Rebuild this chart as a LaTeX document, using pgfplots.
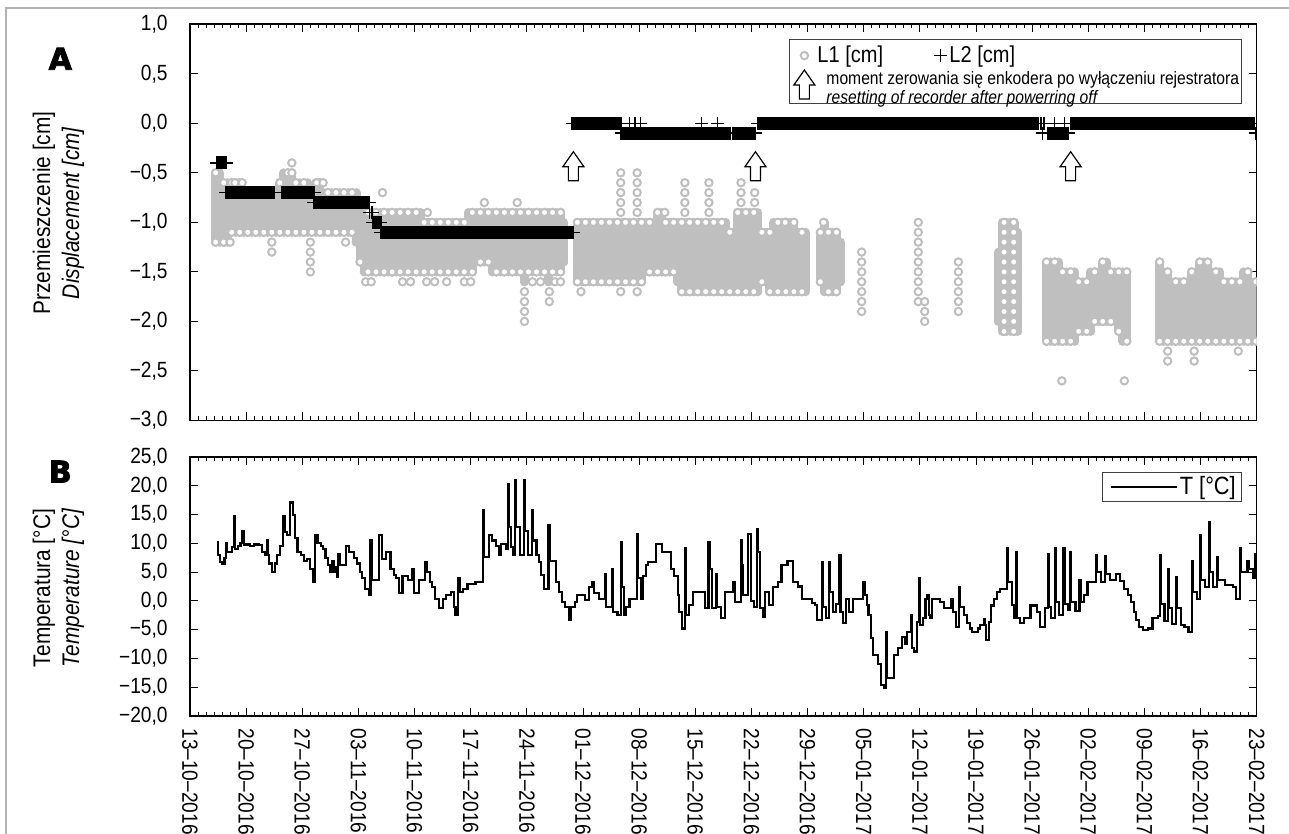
\documentclass[border=0pt]{standalone}
\usepackage{fontspec}
\setmainfont{Liberation Sans}[FakeStretch=0.87]
\newfontfamily\heavyfont{DejaVu Sans Bold}[FakeBold=3]
\usepackage{pgfplots}
\usepackage{pgfplotstable}
\pgfplotsset{compat=1.18}
\definecolor{lgray}{gray}{0.75}

\pgfdeclareplotmark{hollowup}{%
  \pgfpathmoveto{\pgfpoint{0pt}{0pt}}%
  \pgfpathlineto{\pgfpoint{5.25pt}{-7.5pt}}%
  \pgfpathlineto{\pgfpoint{2.5pt}{-7.5pt}}%
  \pgfpathlineto{\pgfpoint{2.5pt}{-14.5pt}}%
  \pgfpathlineto{\pgfpoint{-2.5pt}{-14.5pt}}%
  \pgfpathlineto{\pgfpoint{-2.5pt}{-7.5pt}}%
  \pgfpathlineto{\pgfpoint{-5.25pt}{-7.5pt}}%
  \pgfpathclose
  \pgfusepathqfillstroke}

% L1 band: day, lowest and highest reading
\pgfplotstableread{
d lo hi
3.2 -1.2 -0.5
3.7 -1.2 -0.5
4.2 -1.2 -0.6
4.7 -1.2 -0.6
5.2 -1.1 -0.6
5.7 -1.1 -0.6
6.2 -1.1 -0.6
6.7 -1.1 -0.7
7.2 -1.1 -0.7
7.7 -1.1 -0.7
8.2 -1.1 -0.7
8.7 -1.1 -0.7
9.2 -1.1 -0.7
9.7 -1.1 -0.7
10.2 -1.1 -0.7
10.7 -1.1 -0.7
11.2 -1.1 -0.6
11.7 -1.1 -0.5
12.2 -1.1 -0.5
12.7 -1.1 -0.5
13.2 -1.1 -0.6
13.7 -1.1 -0.6
14.2 -1.1 -0.6
14.7 -1.1 -0.6
15.2 -1.1 -0.7
15.7 -1.1 -0.6
16.2 -1.1 -0.6
16.7 -1.1 -0.7
17.2 -1.1 -0.7
17.7 -1.1 -0.7
18.2 -1.1 -0.7
18.7 -1.1 -0.7
19.2 -1.1 -0.7
19.7 -1.1 -0.7
20.2 -1.1 -0.7
20.7 -1.2 -0.7
21.2 -1.4 -0.8
21.7 -1.5 -0.9
22.2 -1.5 -0.9
22.7 -1.5 -0.9
23.2 -1.5 -0.9
23.7 -1.5 -0.9
24.2 -1.5 -0.9
24.7 -1.5 -0.9
25.2 -1.5 -0.9
25.7 -1.5 -0.9
26.2 -1.5 -0.9
26.7 -1.5 -0.9
27.2 -1.5 -0.9
27.7 -1.5 -0.9
28.2 -1.5 -0.9
28.7 -1.5 -0.9
29.2 -1.5 -1.0
29.7 -1.5 -1.0
30.2 -1.5 -1.0
30.7 -1.5 -1.0
31.2 -1.5 -1.0
31.7 -1.5 -1.0
32.2 -1.5 -1.0
32.7 -1.5 -1.0
33.2 -1.5 -1.0
33.7 -1.5 -1.0
34.2 -1.5 -1.0
34.7 -1.5 -0.9
35.2 -1.5 -0.9
35.7 -1.4 -0.9
36.2 -1.4 -0.9
36.7 -1.4 -0.9
37.2 -1.4 -0.9
37.7 -1.5 -0.9
38.2 -1.5 -0.9
38.7 -1.5 -0.9
39.2 -1.5 -0.9
39.7 -1.5 -0.9
40.2 -1.5 -0.9
40.7 -1.5 -0.9
41.2 -1.5 -0.9
41.7 -1.6 -0.9
42.2 -1.5 -0.9
42.7 -1.5 -0.9
43.2 -1.5 -0.9
43.7 -1.5 -0.9
44.2 -1.5 -0.9
44.7 -1.6 -0.9
45.2 -1.5 -0.9
45.7 -1.5 -0.9
46.2 -1.5 -0.9
46.6 -1.4 -1.0
}\bandA
\pgfplotstableread{
d lo hi
48.3 -1.6 -1.0
48.8 -1.6 -1.0
49.3 -1.6 -1.0
49.8 -1.6 -1.0
50.3 -1.6 -1.0
50.8 -1.6 -1.0
51.3 -1.6 -1.0
51.8 -1.6 -1.0
52.3 -1.6 -1.0
52.8 -1.6 -1.0
53.3 -1.6 -1.0
53.8 -1.6 -1.0
54.3 -1.6 -1.0
54.8 -1.6 -1.0
55.3 -1.6 -1.0
55.8 -1.6 -1.0
56.3 -1.6 -1.0
56.8 -1.5 -1.0
57.3 -1.5 -1.0
57.8 -1.5 -1.0
58.3 -1.5 -0.9
58.8 -1.5 -0.9
59.3 -1.5 -1.0
59.8 -1.5 -1.0
60.3 -1.5 -1.0
60.8 -1.6 -1.0
61.3 -1.7 -1.0
61.8 -1.7 -1.0
62.3 -1.7 -1.0
62.8 -1.7 -1.0
63.3 -1.7 -1.0
63.8 -1.7 -1.0
64.3 -1.7 -1.0
64.8 -1.7 -1.0
65.3 -1.7 -1.0
65.8 -1.7 -1.0
66.3 -1.7 -1.0
66.8 -1.7 -1.0
67.3 -1.7 -1.1
67.8 -1.7 -1.1
68.3 -1.7 -0.9
68.8 -1.7 -0.9
69.3 -1.7 -0.9
69.8 -1.7 -0.9
70.3 -1.7 -0.9
70.8 -1.7 -0.9
71.3 -1.6 -1.1
71.8 -1.6 -1.1
72.3 -1.7 -1.1
72.8 -1.7 -1.0
73.3 -1.7 -1.0
73.8 -1.7 -1.0
74.3 -1.7 -1.0
74.8 -1.7 -1.0
75.3 -1.7 -1.0
75.8 -1.7 -1.1
76.3 -1.7 -1.1
76.7 -1.7 -1.1
}\bandB
\pgfplotstableread{
d lo hi
78.6 -1.6 -1.1
79.1 -1.7 -1.0
79.6 -1.7 -1.1
80.1 -1.7 -1.1
80.6 -1.7 -1.1
81.1 -1.6 -1.2
}\bandC
\pgfplotstableread{
d lo hi
100.8 -2.0 -1.3
101.3 -2.1 -1.0
101.8 -2.1 -1.0
102.3 -2.1 -1.0
102.8 -2.1 -1.0
103.2 -2.1 -1.1
}\bandD
\pgfplotstableread{
d lo hi
106.8 -2.2 -1.4
107.3 -2.2 -1.4
107.8 -2.2 -1.4
108.3 -2.2 -1.4
108.8 -2.2 -1.5
109.3 -2.2 -1.5
109.8 -2.2 -1.5
110.3 -2.2 -1.5
110.8 -2.1 -1.6
111.3 -2.1 -1.6
111.8 -2.1 -1.6
112.3 -2.1 -1.5
112.8 -2.0 -1.5
113.3 -2.0 -1.5
113.8 -2.0 -1.4
114.3 -2.0 -1.4
114.8 -2.0 -1.5
115.3 -2.0 -1.5
115.8 -2.1 -1.5
116.3 -2.2 -1.5
116.8 -2.2 -1.5
}\bandE
\pgfplotstableread{
d lo hi
120.9 -2.2 -1.4
121.4 -2.2 -1.5
121.9 -2.2 -1.5
122.4 -2.2 -1.6
122.9 -2.2 -1.6
123.4 -2.2 -1.6
123.9 -2.2 -1.6
124.4 -2.2 -1.6
124.9 -2.2 -1.5
125.4 -2.2 -1.5
125.9 -2.2 -1.4
126.4 -2.2 -1.4
126.9 -2.2 -1.4
127.4 -2.2 -1.5
127.9 -2.2 -1.5
128.4 -2.2 -1.5
128.9 -2.2 -1.6
129.4 -2.2 -1.6
129.9 -2.2 -1.6
130.4 -2.2 -1.6
130.9 -2.2 -1.6
131.4 -2.2 -1.5
131.9 -2.2 -1.5
132.4 -2.2 -1.6
132.9 -2.2 -1.6
}\bandF
% L1 single readings standing out of the band
\pgfplotstableread{
d y
12.7 -0.4
12.7 -0.5
5.6 -0.6
6.5 -0.6
15.8 -0.6
16.6 -0.6
10.2 -1.2
10.2 -1.3
15.0 -1.2
15.0 -1.3
15.0 -1.4
15.0 -1.5
4.2 -1.2
5.0 -1.2
19.4 -1.2
21.9 -1.6
22.6 -1.6
26.5 -1.6
27.5 -1.6
29.5 -1.6
30.5 -1.6
32.0 -1.6
34.2 -1.6
35.0 -1.6
42.7 -1.6
43.7 -1.6
45.5 -1.6
46.2 -1.6
24.0 -0.7
29.6 -0.9
36.7 -0.8
40.8 -0.8
41.7 -1.7
41.7 -1.8
41.7 -1.9
41.7 -2.0
44.8 -1.7
44.8 -1.8
48.75 -1.7
53.7 -0.5
53.7 -0.6
53.7 -0.7
53.7 -0.8
53.7 -0.9
53.7 -1.7
55.75 -0.5
55.75 -0.6
55.75 -0.7
55.75 -0.8
55.75 -0.9
55.75 -1.7
59.2 -0.9
61.7 -0.6
61.7 -0.7
61.7 -0.8
61.7 -0.9
64.7 -0.6
64.7 -0.7
64.7 -0.8
64.7 -0.9
68.7 -0.6
68.7 -0.7
68.7 -0.8
70.4 -0.7
70.4 -0.8
74.2 -1.0
79.0 -1.0
83.75 -1.3
83.75 -1.4
83.75 -1.5
83.75 -1.6
83.75 -1.7
83.75 -1.8
83.75 -1.9
90.8 -1.0
90.8 -1.1
90.8 -1.2
90.8 -1.3
90.8 -1.4
90.8 -1.5
90.8 -1.6
90.8 -1.7
90.8 -1.8
91.6 -1.8
91.6 -1.9
91.6 -2.0
95.8 -1.4
95.8 -1.5
95.8 -1.6
95.8 -1.7
95.8 -1.8
95.8 -1.9
101.5 -1.0
101.5 -1.1
101.5 -1.2
101.5 -1.3
101.5 -1.4
101.5 -1.5
101.5 -1.6
101.5 -1.7
101.5 -1.8
101.5 -1.9
101.5 -2.0
101.5 -2.1
102.7 -1.0
102.7 -1.1
102.7 -1.2
102.7 -1.3
102.7 -1.4
102.7 -1.5
102.7 -1.6
102.7 -1.7
102.7 -1.8
102.7 -1.9
102.7 -2.0
102.7 -2.1
108.7 -2.6
116.5 -2.6
121.9 -2.3
121.9 -2.4
125.2 -2.3
125.2 -2.4
130.7 -2.3
}\ringsL
% L2 constant runs (start, end)
\pgfplotstableread{
d y
3.35 -0.4
4.55 -0.4
nan nan
4.4 -0.7
10.5 -0.7
nan nan
11.4 -0.7
15.55 -0.7
nan nan
15.45 -0.8
22.4 -0.8
nan nan
22.8 -1.0
23.8 -1.0
nan nan
23.75 -1.1
47.85 -1.1
nan nan
47.65 0
53.75 0
nan nan
53.75 -0.1
67.35 -0.1
nan nan
67.65 -0.1
70.45 -0.1
nan nan
70.75 0
89.25 0
nan nan
89.5 0
105.75 0
nan nan
106.9 -0.1
109.55 -0.1
nan nan
109.75 0
132.7 0
}\Ltwo
\pgfplotstableread{
d T
3.4 10.2
3.5 8.0
3.75 6.8
4.0 6.5
4.3 7.5
4.45 10.0
4.6 8.5
5.2 9.4
5.45 14.7
5.6 9.0
6.0 9.5
6.3 10.0
6.55 12.2
6.75 9.8
7.5 9.6
8.0 9.8
8.6 9.7
9.0 8.5
9.3 8.0
9.6 10.5
9.75 8.0
9.9 6.5
10.2 5.0
10.6 6.5
10.9 8.0
11.2 9.5
11.55 14.8
11.8 12.0
12.1 11.5
12.5 17.1
12.8 15.0
13.1 11.0
13.4 8.5
13.8 8.0
14.2 7.0
14.6 7.3
15.0 5.5
15.3 3.3
15.6 11.4
15.9 10.0
16.3 9.5
16.6 9.0
16.9 7.5
17.2 6.2
17.5 5.0
17.7 7.0
17.9 5.0
18.1 5.8
18.3 4.2
18.5 8.2
18.7 6.2
19.5 9.5
19.8 8.5
20.4 7.5
20.8 6.5
21.2 5.0
21.5 3.9
21.8 2.1
22.3 1.0
22.5 10.5
22.7 3.6
23.6 11.5
23.9 7.3
24.4 8.5
25.0 5.6
25.4 4.5
25.7 3.9
26.1 1.3
26.5 4.4
27.2 3.6
27.7 5.6
27.9 1.3
28.5 3.6
29.3 6.7
29.6 5.0
29.9 3.3
30.2 2.4
30.6 0.4
31.0 -1.3
31.5 0.4
31.9 1.0
32.5 1.6
32.9 -1.0
33.1 -2.4
33.4 3.9
33.6 1.6
34.0 2.1
34.6 3.0
35.6 3.3
36.55 15.7
36.7 7.6
37.3 11.4
37.7 10.5
38.2 9.5
38.5 7.9
38.75 9.9
39.4 9.1
39.6 20.3
39.75 12.8
40.0 9.3
40.3 7.9
40.55 21.0
40.7 12.8
41.2 8.0
41.65 21.0
41.8 12.2
42.1 8.0
42.65 15.7
42.8 10.5
43.2 8.0
43.5 6.7
43.8 4.5
44.1 2.1
44.7 13.1
44.85 7.0
45.6 3.3
46.0 1.6
46.4 -0.2
46.7 -1.0
47.3 -3.3
47.5 -1.0
48.0 -0.2
48.3 1.0
49.2 0.1
49.8 2.4
50.1 3.3
50.4 1.3
51.0 0.4
51.7 4.7
51.85 -1.0
52.6 5.6
52.75 -1.9
53.3 -2.5
53.7 10.2
53.85 2.4
54.1 -2.5
54.4 -1.0
54.8 0.4
55.7 11.6
55.85 3.9
56.2 0.4
56.5 4.4
56.8 6.2
57.1 6.7
58.1 9.9
58.9 8.5
60.0 5.6
60.4 4.4
60.8 1.0
61.0 -2.0
61.3 -4.8
61.7 9.2
61.85 -2.5
62.2 -0.7
62.7 1.6
64.2 -1.3
64.65 10.2
64.8 5.6
65.1 -1.3
65.6 4.7
65.75 -1.0
66.2 -3.0
66.7 1.6
67.75 3.3
67.9 -0.2
68.7 10.5
68.85 6.2
69.0 1.0
69.6 11.6
69.9 0.0
70.3 -1.0
70.7 12.4
70.85 8.5
71.1 -1.3
71.4 -2.8
71.7 1.6
72.2 -0.7
72.7 2.4
73.3 3.3
73.75 6.2
74.5 7.0
75.2 3.3
75.8 2.5
76.3 0.4
77.5 -0.3
77.9 -0.7
78.2 -3.3
78.8 6.7
78.95 -1.0
79.3 -3.0
79.7 6.7
79.85 1.5
80.2 -2.0
80.5 -0.5
80.95 7.9
81.1 -2.0
81.4 -3.9
81.8 0.4
82.2 -2.0
82.7 0.4
83.9 3.3
84.1 1.0
84.4 -0.7
84.6 -2.5
84.9 -6.5
85.2 -9.4
85.8 -11.0
86.2 -14.6
86.5 -15.2
86.8 -5.4
86.95 -13.4
87.8 -9.4
88.3 -8.2
88.75 -6.2
89.1 -7.4
89.4 -5.4
89.95 -2.4
90.05 -8.2
90.3 -8.8
90.6 -3.6
90.95 4.0
91.05 -4.2
91.4 -3.0
91.7 0.4
91.9 1.0
92.1 -2.5
92.3 -3.0
92.5 0.4
93.5 -0.2
94.0 -1.2
94.95 0.4
95.1 -2.0
95.5 -4.5
95.9 2.4
96.05 -1.0
96.5 -2.5
96.9 -3.9
97.2 -4.8
97.5 -5.4
98.2 -4.8
98.5 -4.2
98.95 -3.1
99.1 -4.2
99.3 -6.8
99.6 -3.6
99.9 -0.8
100.2 0.4
100.6 1.6
101.0 2.1
101.85 9.2
102.0 3.3
102.5 -0.7
102.7 -3.0
102.95 8.5
103.1 -3.0
103.5 -3.9
104.0 -3.0
104.8 -0.8
105.6 -2.0
106.0 -4.5
106.6 -1.3
106.95 8.2
107.1 -1.0
107.4 -3.0
107.85 9.2
108.0 -0.2
108.4 -2.5
108.9 9.2
109.05 -0.5
109.5 -1.5
109.75 8.5
109.9 -0.2
110.4 -1.8
110.9 3.6
111.05 -0.2
111.5 1.0
111.9 3.3
112.95 7.9
113.1 5.0
113.6 3.3
114.1 7.8
114.25 4.7
114.7 3.6
115.4 4.7
116.0 3.5
116.5 2.1
117.0 1.0
117.3 -0.2
117.7 -2.0
118.0 -3.3
118.3 -4.5
118.8 -5.1
119.5 -4.8
120.0 -3.0
120.7 -2.7
120.95 7.9
121.1 -0.5
121.5 -3.5
121.95 5.6
122.1 -1.3
122.4 -4.0
122.95 4.2
123.1 -1.3
123.6 -4.2
124.0 -4.5
124.5 -5.4
124.9 7.0
125.05 1.6
125.5 0.4
125.95 11.4
126.1 3.6
126.6 2.4
127.05 13.7
127.2 5.0
127.6 2.4
128.05 7.6
128.2 3.6
129.0 2.7
130.0 2.4
130.4 0.4
130.9 9.1
131.05 5.0
131.85 7.0
132.0 5.6
132.5 3.9
132.85 8.2
133.0 5.0
}\Temp

\pgfplotsset{
  panel/.style={
    scale only axis, width=533.35pt, anchor=south west,
    xmin=0, xmax=133, xtick={0,7,...,133}, minor x tick num=6,
    tick align=inside, major tick length=4pt, minor tick length=2pt,
    every tick/.style={black, line width=0.5pt},
    axis line style={black, line width=0.7pt},
    tick label style={font=\fontsize{11}{13}\selectfont},
    yticklabel style={inner xsep=11pt},
    ylabel style={anchor=center, align=center, font=\fontsize{12}{14.5}\selectfont},
  },
  band/.style={lgray, only marks, mark=none, forget plot,
    error bars/.cd, y dir=plus, y explicit, error mark=none,
    error bar style={draw=lgray, line width=4.5pt, line cap=round}},
  ring/.style={only marks, mark=*, mark size=1.85pt, forget plot,
    mark options={fill=white, draw=lgray, line width=1.0pt}},
  ringn/.style={ring, each nth point=2, filter discard warning=false},
}

\begin{document}
\begin{tikzpicture}
\useasboundingbox (0,0) rectangle (644.5pt,417pt);
\draw[gray!60, line width=0.8pt] (3pt,0pt) -- (3pt,413pt) -- (644.5pt,413pt);
\node[font=\heavyfont\fontsize{15}{16}\selectfont, inner sep=0pt] at (30.15pt,387.6pt) {A};
\node[font=\heavyfont\fontsize{15}{16}\selectfont, inner sep=0pt] at (30.15pt,181.2pt) {B};

\begin{axis}[panel, at={(95pt,206.75pt)}, height=198.15pt,
  clip marker paths=true,
  ymin=-3, ymax=1, ytick={-3,-2.5,-2,-1.5,-1,-0.5,0,0.5,1},
  yticklabels={{−3,0},{−2,5},{−2,0},{−1,5},{−1,0},{−0,5},{0,0},{0,5},{1,0}},
  xticklabels={},
  ylabel={Przemieszczenie [cm]\\\textit{Displacement [cm]}},
  ylabel style={at={(axis description cs:-0.1233,0.5236)}},
  legend columns=2,
  legend style={at={(axis description cs:0.9862,0.962)}, anchor=north east,
    draw=black!75, line width=0.5pt, fill=white, inner xsep=2pt, inner ysep=2pt,
    row sep=1pt, font=\fontsize{11.5}{13}\selectfont, cells={anchor=west},
    nodes={inner sep=1pt}},
]
\addplot[band] table[x=d, y=lo, y error expr=\thisrow{hi}-\thisrow{lo}] {\bandA};
\addplot[band] table[x=d, y=lo, y error expr=\thisrow{hi}-\thisrow{lo}] {\bandB};
\addplot[band] table[x=d, y=lo, y error expr=\thisrow{hi}-\thisrow{lo}] {\bandC};
\addplot[band] table[x=d, y=lo, y error expr=\thisrow{hi}-\thisrow{lo}] {\bandD};
\addplot[band] table[x=d, y=lo, y error expr=\thisrow{hi}-\thisrow{lo}] {\bandE};
\addplot[band] table[x=d, y=lo, y error expr=\thisrow{hi}-\thisrow{lo}] {\bandF};
\addplot[ringn] table[x=d, y=hi] {\bandA};
\addplot[ringn] table[x=d, y=lo] {\bandA};
\addplot[ringn] table[x=d, y=hi] {\bandB};
\addplot[ringn] table[x=d, y=lo] {\bandB};
\addplot[ringn] table[x=d, y=hi] {\bandC};
\addplot[ringn] table[x=d, y=lo] {\bandC};
\addplot[ringn] table[x=d, y=hi] {\bandE};
\addplot[ringn] table[x=d, y=lo] {\bandE};
\addplot[ringn] table[x=d, y=hi] {\bandF};
\addplot[ringn] table[x=d, y=lo] {\bandF};
\addplot[ring] table[x=d, y=y] {\ringsL};
\addplot[black, line width=6.5pt, mark=+, mark size=3.25pt,
  mark options={line width=0.7pt}, unbounded coords=jump, forget plot]
  table[x=d, y=y] {\Ltwo};
\addplot[black, only marks, mark=+, mark size=3.25pt, line width=0.7pt, forget plot]
  coordinates {(22.4,-0.9) (22.7,-0.9) (54.8,0) (55.5,0) (56.2,0) (63.8,0) (65.8,0)
  (106.1,0) (106.5,0) (107.8,0) (109.0,0) (106.3,-0.1) (132.9,-0.1)};
\addplot[only marks, mark=hollowup, mark options={fill=white, draw=black, line width=0.6pt}, forget plot]
  coordinates {(47.8,-0.287) (70.5,-0.287) (109.8,-0.287)};
\addlegendimage{legend image code/.code={
  \path[draw=none, fill=none] (0pt,-3pt) rectangle (11pt,3pt);
  \draw[lgray, fill=white, line width=1.0pt] (5.5pt,0pt) circle (1.85pt);}}
\addlegendentry{L1 [cm]\hspace*{24pt}}
\addlegendimage{legend image code/.code={
  \path[draw=none, fill=none] (0pt,-3pt) rectangle (7pt,3pt);
  \draw[black, line width=0.7pt] (0.25pt,0pt) -- (6.75pt,0pt) (3.5pt,-3.25pt) -- (3.5pt,3.25pt);}}
\addlegendentry{\makebox[143pt][l]{L2 [cm]}}
\addlegendimage{legend image code/.code={
  \draw[black, fill=white, line width=0.6pt] (5.5pt,7.25pt) -- (10.75pt,-0.25pt) -- (8pt,-0.25pt)
   -- (8pt,-7.25pt) -- (3pt,-7.25pt) -- (3pt,-0.25pt) -- (0.25pt,-0.25pt) -- cycle;}}
\addlegendentry{\makebox[0pt][l]{\hspace*{4.5pt}\fontsize{9}{9}\selectfont\begin{tabular}{@{}l@{}}moment zerowania się enkodera po wyłączeniu rejestratora\\\itshape resetting of recorder after powerring off\end{tabular}}}
\end{axis}

\begin{axis}[panel, at={(95pt,59pt)}, height=129.5pt,
  ymin=-20, ymax=25, ytick={-20,-15,...,25},
  yticklabels={{−20,0},{−15,0},{−10,0},{−5,0},{0,0},{5,0},{10,0},{15,0},{20,0},{25,0}},
  xticklabels={13–10–2016,20–10–2016,27–10–2016,03–11–2016,10–11–2016,17–11–2016,24–11–2016,01–12–2016,08–12–2016,15–12–2016,22–12–2016,29–12–2016,05–01–2017,12–01–2017,19–01–2017,26–01–2017,02–02–2017,09–02–2017,16–02–2017,23–02–2017},
  xticklabel style={rotate=-90, anchor=west, inner xsep=6pt},
  ylabel={Temperatura [°C]\\\textit{Temperature [°C]}},
  ylabel style={at={(axis description cs:-0.1233,0.4942)}},
  legend style={at={(axis description cs:0.9864,0.943)}, anchor=north east,
    draw=black!75, line width=0.5pt, fill=white, inner xsep=2pt, inner ysep=1pt,
    font=\fontsize{12.5}{14}\selectfont, cells={anchor=west}, nodes={inner sep=1pt}},
  legend image code/.code={\path[draw=none, fill=none] (0pt,-2pt) rectangle (35.5pt,2pt);
    \draw[black, line width=1.3pt] (2.2pt,0pt) -- (35.2pt,0pt);},
]
\addplot[const plot, black, line width=1.05pt] table[x=d, y=T] {\Temp};
\addlegendentry{T [°C]}
\end{axis}
\end{tikzpicture}
\end{document}
